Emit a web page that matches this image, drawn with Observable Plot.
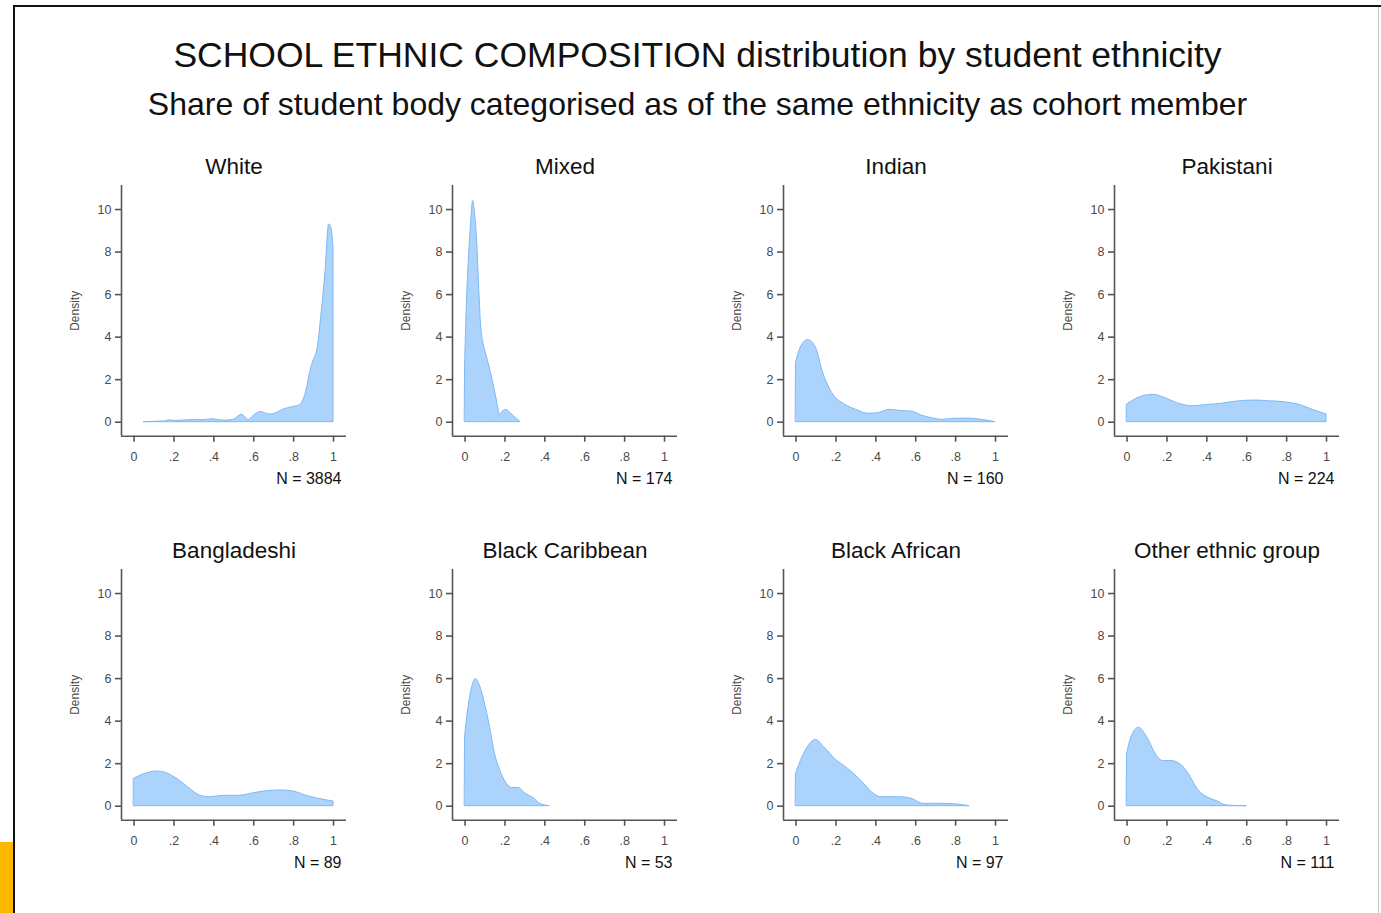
<!DOCTYPE html>
<html><head><meta charset="utf-8">
<script src="https://cdn.jsdelivr.net/npm/d3@7"></script>
<script src="https://cdn.jsdelivr.net/npm/@observablehq/plot@0.6"></script>
<style>
html,body{margin:0;padding:0;background:#fff;}
#root{position:relative;width:1381px;height:913px;overflow:hidden;font-family:"Liberation Sans",Arial,sans-serif;}
.frameTop{position:absolute;left:13px;top:5px;width:1368px;height:2px;background:#111;}
.frameLeft{position:absolute;left:13px;top:5px;width:2px;height:908px;background:#111;}
.frameRight{position:absolute;left:1378px;top:7px;width:1px;height:906px;background:#c8c8c8;}
.orange{position:absolute;left:0;top:842px;width:13px;height:71px;background:#ffb800;}
.title{position:absolute;left:0;width:1395px;text-align:center;color:#111;white-space:nowrap;}
.panel{position:absolute;}
</style></head>
<body><div id="root">
<div class="frameTop"></div><div class="frameLeft"></div><div class="frameRight"></div><div class="orange"></div>
<div class="title" style="top:35px;font-size:35.5px;">SCHOOL ETHNIC COMPOSITION distribution by student ethnicity</div>
<div class="title" style="top:86px;font-size:32px;">Share of student body categorised as of the same ethnicity as cohort member</div>
</div>
<script>
// ---- data ----
const groups = ["White","Mixed","Indian","Pakistani","Bangladeshi","Black Caribbean","Black African","Other ethnic group"];
const counts = [3884, 174, 160, 224, 89, 53, 97, 111];
const xTicks = [0, 0.2, 0.4, 0.6, 0.8, 1];
const yTicks = [0, 2, 4, 6, 8, 10];
const xDomain = [-0.063, 1.065];
const yDomain = [-0.658, 11.13];

const whiteX = [0.05,0.1,0.15,0.18,0.2,0.25,0.3,0.35,0.39,0.45,0.5,0.54,0.575,0.6,0.635,0.68,0.7,0.75,0.8,0.83,0.86,0.885,0.9,0.92,0.94,0.96,0.978,0.99,1.0];
const whiteY = [0.0,0.02,0.03,0.09,0.06,0.08,0.1,0.1,0.14,0.07,0.12,0.35,0.1,0.3,0.48,0.36,0.38,0.6,0.72,0.8,1.33,2.43,2.9,3.45,5.1,7.1,9.3,9.1,8.2];

const mixedX = [0,0.01,0.02,0.03,0.04,0.05,0.06,0.07,0.08,0.09,0.1,0.12,0.14,0.16,0.175,0.19,0.205,0.22,0.24,0.26,0.276];
const mixedY = [2.6,5.8,7.8,9.3,10.4,9.8,8.6,6.5,4.6,3.8,3.4,2.7,1.9,1.0,0.35,0.5,0.58,0.5,0.32,0.15,0.03];

const indianX = [0,0.023,0.06,0.1,0.133,0.19,0.24,0.31,0.36,0.41,0.47,0.53,0.58,0.63,0.68,0.73,0.795,0.86,0.93,1.0];
const indianY = [2.8,3.5,3.87,3.5,2.4,1.25,0.86,0.55,0.4,0.42,0.58,0.52,0.5,0.31,0.19,0.11,0.16,0.17,0.11,0.0];

const pakistaniX = [0,0.047,0.13,0.19,0.25,0.33,0.4,0.47,0.54,0.64,0.7,0.79,0.857,0.94,1.0];
const pakistaniY = [0.83,1.1,1.29,1.14,0.9,0.75,0.81,0.86,0.96,1.02,0.99,0.94,0.83,0.55,0.36];

const bangladeshiX = [0,0.047,0.114,0.164,0.215,0.28,0.33,0.38,0.45,0.53,0.6,0.67,0.74,0.8,0.87,0.95,1.0];
const bangladeshiY = [1.29,1.49,1.63,1.55,1.29,0.82,0.5,0.42,0.49,0.49,0.61,0.71,0.74,0.69,0.47,0.3,0.22];

const caribbeanX = [0,0.015,0.032,0.054,0.074,0.1,0.125,0.15,0.175,0.21,0.234,0.268,0.3,0.343,0.377,0.424];
const caribbeanY = [3.25,4.5,5.45,5.98,5.68,4.82,3.72,2.46,1.71,1.05,0.86,0.86,0.61,0.38,0.11,0.0];

const africanX = [0,0.032,0.065,0.1,0.14,0.2,0.26,0.325,0.39,0.426,0.527,0.585,0.636,0.728,0.795,0.87];
const africanY = [1.52,2.3,2.86,3.12,2.78,2.18,1.76,1.21,0.58,0.42,0.42,0.33,0.11,0.11,0.09,0.0];

const otherX = [0,0.022,0.06,0.1,0.148,0.18,0.224,0.274,0.308,0.359,0.41,0.45,0.5,0.6];
const otherY = [2.46,3.25,3.69,3.25,2.39,2.12,2.12,1.92,1.52,0.74,0.38,0.24,0.03,0.0];

const seriesX = [whiteX, mixedX, indianX, pakistaniX, bangladeshiX, caribbeanX, africanX, otherX];
const seriesY = [whiteY, mixedY, indianY, pakistaniY, bangladeshiY, caribbeanY, africanY, otherY];

// ---- drawing ----
const fillColor = "#acd3fb";
const strokeColor = "#7db8f3";
const axisColor = "#555";
const labelColor = "#4a4a4a";
const tickFmt = d => d === 0 ? "0" : d === 1 ? "1" : String(d).replace(/^0\./, ".");

const mL = 70, mR = 15, mT = 40, mB = 55;
const frameW = 225, frameH = 250.7;
const root = document.getElementById("root");

groups.forEach((g, i) => {
  const col = i % 4, row = Math.floor(i / 4);
  const data = seriesX[i].map((x, k) => ({x, y: seriesY[i][k]}));
  const chart = Plot.plot({
    width: mL + frameW + mR,
    height: mT + frameH + mB,
    marginLeft: mL, marginRight: mR, marginTop: mT, marginBottom: mB,
    style: {fontFamily: "'Liberation Sans', Arial, sans-serif", background: "transparent", overflow: "visible"},
    x: {domain: xDomain},
    y: {domain: yDomain},
    marks: [
      Plot.areaY(data, {x: "x", y: "y", fill: fillColor, stroke: strokeColor, strokeWidth: 1, curve: "monotone-x"}),
      Plot.ruleX([xDomain[0]], {stroke: axisColor, strokeWidth: 1.6}),
      Plot.ruleY([yDomain[0]], {stroke: axisColor, strokeWidth: 1.6}),
      Plot.axisX({ticks: xTicks, tickFormat: tickFmt, tickSize: 6, tickPadding: 10, fontSize: 12.5, color: labelColor, stroke: axisColor, strokeWidth: 1.6, label: null}),
      Plot.axisY({ticks: yTicks, tickFormat: d => String(d), tickSize: 6, tickPadding: 4, fontSize: 12.5, color: labelColor, stroke: axisColor, strokeWidth: 1.6, label: null}),
      Plot.text(["Density"], {frameAnchor: "left", dx: -46, rotate: -90, textAnchor: "middle", lineAnchor: "middle", fontSize: 12, fill: labelColor, text: d => d}),
      Plot.text([g], {frameAnchor: "top", lineAnchor: "middle", dy: -19, fontSize: 22.5, fill: "#111", text: d => d}),
      Plot.text([counts[i]], {frameAnchor: "bottom-right", lineAnchor: "middle", dx: -5, dy: 42.6, textAnchor: "end", fontSize: 16, fill: "#111", text: d => "N = " + d})
    ]
  });
  const wrap = document.createElement("div");
  wrap.className = "panel";
  wrap.style.left = (120.7 + 331 * col - mL) + "px";
  wrap.style.top = (185 + 384 * row - mT) + "px";
  wrap.appendChild(chart);
  root.appendChild(wrap);
});
</script>
</body></html>
